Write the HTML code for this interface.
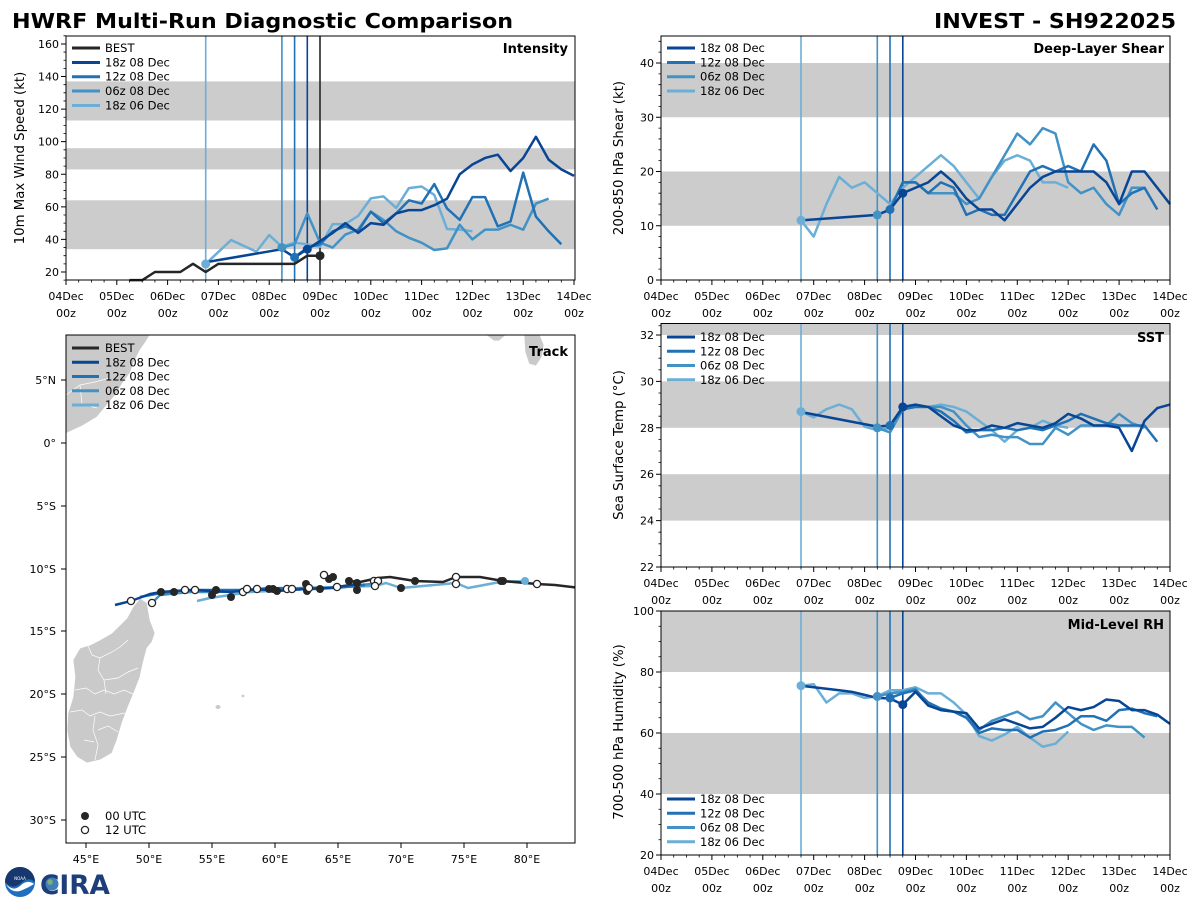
<!DOCTYPE html>
<html><head><meta charset="utf-8"><style>
html,body{margin:0;padding:0;background:#fff;}
svg{display:block;font-family:"DejaVu Sans","Liberation Sans",sans-serif;}
.nss{vector-effect:non-scaling-stroke;fill:none;}
.tk{font-size:11px;fill:#000;}
.lg{font-size:11.5px;fill:#000;}
.al{font-size:13.3px;fill:#000;}
.pt{font-size:13px;font-weight:bold;fill:#000;}
</style></head><body>
<svg width="1200" height="900" viewBox="0 0 1200 900" xmlns="http://www.w3.org/2000/svg">
<rect width="1200" height="900" fill="#fff"/>
<text x="12" y="28" font-size="20" font-weight="bold" textLength="501" lengthAdjust="spacingAndGlyphs">HWRF Multi-Run Diagnostic Comparison</text>
<text x="934" y="28" font-size="20" font-weight="bold" textLength="242" lengthAdjust="spacingAndGlyphs">INVEST - SH922025</text>

<!-- ================= INTENSITY ================= -->
<g>
<rect x="66" y="81.4" width="509" height="39.1" fill="#cccccc"/>
<rect x="66" y="148.2" width="509" height="21.2" fill="#cccccc"/>
<rect x="66" y="200.3" width="509" height="48.9" fill="#cccccc"/>
<g stroke-width="1.6">
<line x1="205.7" y1="36" x2="205.7" y2="280" stroke="#6baed6"/>
<line x1="281.9" y1="36" x2="281.9" y2="280" stroke="#4292c6"/>
<line x1="294.6" y1="36" x2="294.6" y2="280" stroke="#2171b5"/>
<line x1="307.3" y1="36" x2="307.3" y2="280" stroke="#084594"/>
<line x1="320" y1="36" x2="320" y2="280" stroke="#262626"/>
</g>
<g transform="matrix(2.1167 0 0 -1.629 66 304.58)" stroke-width="2.5" stroke-linejoin="round">
<polyline class="nss" stroke="#6baed6" points="66,25 78,39.6 90,32.5 96,42.7 102,35.5 108,38 114,37 120,35.5 126,49.4 132,49.4 138,54.4 144,65.2 150,66.4 156,59.3 162,71.5 168,72.5 174,67.3 180,46.4 186,46 192,45"/>
<polyline class="nss" stroke="#4292c6" points="102,35 108,37 114,56 120,38 126,35 132,43 138,46 144,57 150,52 156,45 162,41 168,38 174,33.5 180,34.5 186,49 192,40 198,46 204,46 210,49 216,46 222,62 228,65"/>
<polyline class="nss" stroke="#2171b5" points="108,29 114,35 120,37 126,45 132,48 138,45 144,57 150,50 156,56 162,64 168,62 174,74 180,59 186,52 192,66 198,66 204,48 210,51 216,81 222,54 228,45 234,37"/>
<polyline class="nss" stroke="#084594" points="66,26 102,34 108,29 114,34 120,39 126,44 132,50 138,44 144,50 150,49 156,56 162,58 168,58 174,61 180,65 186,80 192,86 198,90 204,92 210,82 216,90 222,103 228,89 234,83 240,79"/>
<polyline class="nss" stroke="#262626" points="30,15 36,15 42,20 48,20 54,20 60,25 66,20 72,25 78,25 84,25 90,25 96,25 102,25 108,25 114,30 120,30"/>
</g>
<circle cx="205.7" cy="263.9" r="4.5" fill="#6baed6"/>
<circle cx="281.9" cy="247.6" r="4.5" fill="#4292c6"/>
<circle cx="294.6" cy="257.3" r="4.5" fill="#2171b5"/>
<circle cx="307.3" cy="249.2" r="4.5" fill="#084594"/>
<circle cx="320" cy="255.7" r="4.5" fill="#262626"/>
<rect x="66" y="36" width="509" height="244" fill="none" stroke="#000" stroke-width="1"/>
<g transform="translate(66,280) scale(2.1167,1)" stroke="#000">
<path class="nss" stroke-width="1" d="M0 0v5M24 0v5M48 0v5M72 0v5M96 0v5M120 0v5M144 0v5M168 0v5M192 0v5M216 0v5M240 0v5"/>
<path class="nss" stroke-width="0.8" d="M6 0v2.5M12 0v2.5M18 0v2.5M30 0v2.5M36 0v2.5M42 0v2.5M54 0v2.5M60 0v2.5M66 0v2.5M78 0v2.5M84 0v2.5M90 0v2.5M102 0v2.5M108 0v2.5M114 0v2.5M126 0v2.5M132 0v2.5M138 0v2.5M150 0v2.5M156 0v2.5M162 0v2.5M174 0v2.5M180 0v2.5M186 0v2.5M198 0v2.5M204 0v2.5M210 0v2.5M222 0v2.5M228 0v2.5M234 0v2.5"/>
</g>
<g transform="matrix(1 0 0 -1.629 66 304.58)" stroke="#000">
<path class="nss" stroke-width="1" d="M0 20h-5M0 40h-5M0 60h-5M0 80h-5M0 100h-5M0 120h-5M0 140h-5M0 160h-5"/>
<path class="nss" stroke-width="0.8" d="M0 15h-2.5M0 25h-2.5M0 30h-2.5M0 35h-2.5M0 45h-2.5M0 50h-2.5M0 55h-2.5M0 65h-2.5M0 70h-2.5M0 75h-2.5M0 85h-2.5M0 90h-2.5M0 95h-2.5M0 105h-2.5M0 110h-2.5M0 115h-2.5M0 125h-2.5M0 130h-2.5M0 135h-2.5M0 145h-2.5M0 150h-2.5M0 155h-2.5M0 165h-2.5"/>
</g>
<g class="tk" text-anchor="end">
<text x="59" y="276">20</text><text x="59" y="243.4">40</text><text x="59" y="210.8">60</text><text x="59" y="178.3">80</text><text x="59" y="145.7">100</text><text x="59" y="113.1">120</text><text x="59" y="80.5">140</text><text x="59" y="47.9">160</text>
</g>
<g class="tk" text-anchor="middle">
<text x="66" y="300">04Dec</text><text x="116.8" y="300">05Dec</text><text x="167.6" y="300">06Dec</text><text x="218.4" y="300">07Dec</text><text x="269.2" y="300">08Dec</text><text x="320" y="300">09Dec</text><text x="370.8" y="300">10Dec</text><text x="421.6" y="300">11Dec</text><text x="472.4" y="300">12Dec</text><text x="523.2" y="300">13Dec</text><text x="574" y="300">14Dec</text>
<text x="66" y="317">00z</text><text x="116.8" y="317">00z</text><text x="167.6" y="317">00z</text><text x="218.4" y="317">00z</text><text x="269.2" y="317">00z</text><text x="320" y="317">00z</text><text x="370.8" y="317">00z</text><text x="421.6" y="317">00z</text><text x="472.4" y="317">00z</text><text x="523.2" y="317">00z</text><text x="574" y="317">00z</text>
</g>
<text class="al" transform="translate(24,158) rotate(-90)" text-anchor="middle">10m Max Wind Speed (kt)</text>
<text class="pt" x="568" y="53" text-anchor="end">Intensity</text>
<g stroke-width="3">
<line x1="72" y1="48" x2="100" y2="48" stroke="#262626"/>
<line x1="72" y1="62.5" x2="100" y2="62.5" stroke="#084594"/>
<line x1="72" y1="76.7" x2="100" y2="76.7" stroke="#2171b5"/>
<line x1="72" y1="91" x2="100" y2="91" stroke="#4292c6"/>
<line x1="72" y1="105.5" x2="100" y2="105.5" stroke="#6baed6"/>
</g>
<g class="lg"><text x="105" y="52">BEST</text><text x="105" y="66.5">18z 08 Dec</text><text x="105" y="80.7">12z 08 Dec</text><text x="105" y="95">06z 08 Dec</text><text x="105" y="109.5">18z 06 Dec</text></g>
</g>

<!-- ================= SHEAR ================= -->
<g>
<rect x="661" y="63" width="509" height="54.25" fill="#cccccc"/>
<rect x="661" y="171.5" width="509" height="54.25" fill="#cccccc"/>
<g stroke-width="1.6">
<line x1="801" y1="36" x2="801" y2="280" stroke="#6baed6"/>
<line x1="877.3" y1="36" x2="877.3" y2="280" stroke="#4292c6"/>
<line x1="890" y1="36" x2="890" y2="280" stroke="#2171b5"/>
<line x1="902.8" y1="36" x2="902.8" y2="280" stroke="#084594"/>
</g>
<g transform="matrix(2.1208 0 0 -5.425 661 280)" stroke-width="2.5" stroke-linejoin="round">
<polyline class="nss" stroke="#6baed6" points="66,11 72,8 78,14 84,19 90,17 96,18 102,16 108,14 114,17 120,19 126,21 132,23 138,21 144,18 150,15 156,19 162,22 168,23 174,22 180,18 186,18 192,17"/>
<polyline class="nss" stroke="#4292c6" points="102,12 108,13 114,18 120,18 126,16 132,16 138,16 144,14 150,15 156,19 162,23 168,27 174,25 180,28 186,27 192,18 198,16 204,17 210,14 216,12 222,17 228,17"/>
<polyline class="nss" stroke="#2171b5" points="108,13 114,18 120,18 126,16 132,18 138,17 144,12 150,13 156,12 162,12 168,16 174,20 180,21 186,20 192,21 198,20 204,25 210,22 216,14 222,16 228,17 234,13"/>
<polyline class="nss" stroke="#084594" points="66,11 102,12 108,13 114,16 120,17 126,18 132,20 138,18 144,15 150,13 156,13 162,11 168,14 174,17 180,19 186,20 192,20 198,20 204,20 210,18 216,14 222,20 228,20 234,17 240,14"/>
</g>
<circle cx="801" cy="220.3" r="4.5" fill="#6baed6"/>
<circle cx="877.3" cy="214.9" r="4.5" fill="#4292c6"/>
<circle cx="890" cy="209.5" r="4.5" fill="#2171b5"/>
<circle cx="902.8" cy="193.2" r="4.5" fill="#084594"/>
<rect x="661" y="36" width="509" height="244" fill="none" stroke="#000" stroke-width="1"/>
<g transform="translate(661,280) scale(2.1208,1)" stroke="#000">
<path class="nss" stroke-width="1" d="M0 0v5M24 0v5M48 0v5M72 0v5M96 0v5M120 0v5M144 0v5M168 0v5M192 0v5M216 0v5M240 0v5"/>
<path class="nss" stroke-width="0.8" d="M6 0v2.5M12 0v2.5M18 0v2.5M30 0v2.5M36 0v2.5M42 0v2.5M54 0v2.5M60 0v2.5M66 0v2.5M78 0v2.5M84 0v2.5M90 0v2.5M102 0v2.5M108 0v2.5M114 0v2.5M126 0v2.5M132 0v2.5M138 0v2.5M150 0v2.5M156 0v2.5M162 0v2.5M174 0v2.5M180 0v2.5M186 0v2.5M198 0v2.5M204 0v2.5M210 0v2.5M222 0v2.5M228 0v2.5M234 0v2.5"/>
</g>
<g transform="matrix(1 0 0 -5.425 661 280)" stroke="#000">
<path class="nss" stroke-width="1" d="M0 0h-5M0 10h-5M0 20h-5M0 30h-5M0 40h-5"/>
<path class="nss" stroke-width="0.8" d="M0 2h-2.5M0 4h-2.5M0 6h-2.5M0 8h-2.5M0 12h-2.5M0 14h-2.5M0 16h-2.5M0 18h-2.5M0 22h-2.5M0 24h-2.5M0 26h-2.5M0 28h-2.5M0 32h-2.5M0 34h-2.5M0 36h-2.5M0 38h-2.5M0 42h-2.5M0 44h-2.5"/>
</g>
<g class="tk" text-anchor="end">
<text x="654" y="284">0</text><text x="654" y="229.8">10</text><text x="654" y="175.5">20</text><text x="654" y="121.3">30</text><text x="654" y="67">40</text>
</g>
<g class="tk" text-anchor="middle">
<text x="661" y="300">04Dec</text><text x="711.9" y="300">05Dec</text><text x="762.8" y="300">06Dec</text><text x="813.7" y="300">07Dec</text><text x="864.6" y="300">08Dec</text><text x="915.5" y="300">09Dec</text><text x="966.4" y="300">10Dec</text><text x="1017.3" y="300">11Dec</text><text x="1068.2" y="300">12Dec</text><text x="1119.1" y="300">13Dec</text><text x="1170" y="300">14Dec</text>
<text x="661" y="317">00z</text><text x="711.9" y="317">00z</text><text x="762.8" y="317">00z</text><text x="813.7" y="317">00z</text><text x="864.6" y="317">00z</text><text x="915.5" y="317">00z</text><text x="966.4" y="317">00z</text><text x="1017.3" y="317">00z</text><text x="1068.2" y="317">00z</text><text x="1119.1" y="317">00z</text><text x="1170" y="317">00z</text>
</g>
<text class="al" transform="translate(623,158) rotate(-90)" text-anchor="middle">200-850 hPa Shear (kt)</text>
<text class="pt" x="1164" y="53" text-anchor="end">Deep-Layer Shear</text>
<g stroke-width="3">
<line x1="667" y1="48" x2="695" y2="48" stroke="#084594"/>
<line x1="667" y1="62.5" x2="695" y2="62.5" stroke="#2171b5"/>
<line x1="667" y1="76.7" x2="695" y2="76.7" stroke="#4292c6"/>
<line x1="667" y1="91" x2="695" y2="91" stroke="#6baed6"/>
</g>
<g class="lg"><text x="700" y="52">18z 08 Dec</text><text x="700" y="66.5">12z 08 Dec</text><text x="700" y="80.7">06z 08 Dec</text><text x="700" y="95">18z 06 Dec</text></g>
</g>

<!-- ================= SST ================= -->
<g>
<rect x="661" y="323.5" width="509" height="11.5" fill="#cccccc"/>
<rect x="661" y="381.4" width="509" height="46.4" fill="#cccccc"/>
<rect x="661" y="474.2" width="509" height="46.4" fill="#cccccc"/>
<g stroke-width="1.6">
<line x1="801" y1="323.5" x2="801" y2="567" stroke="#6baed6"/>
<line x1="877.3" y1="323.5" x2="877.3" y2="567" stroke="#4292c6"/>
<line x1="890" y1="323.5" x2="890" y2="567" stroke="#2171b5"/>
<line x1="902.8" y1="323.5" x2="902.8" y2="567" stroke="#084594"/>
</g>
<g transform="matrix(2.1208 0 0 -23.2 661 1077.4)" stroke-width="2.5" stroke-linejoin="round">
<polyline class="nss" stroke="#6baed6" points="66,28.7 72,28.45 78,28.8 84,29.0 90,28.8 96,28.05 102,27.9 108,28.0 114,28.8 120,28.9 126,28.9 132,29.0 138,28.9 144,28.7 150,28.3 156,27.9 162,27.4 168,27.9 174,28.0 180,28.3 186,28.1 192,28.0"/>
<polyline class="nss" stroke="#4292c6" points="102,28.0 108,27.8 114,28.8 120,28.9 126,28.9 132,28.9 138,28.7 144,28.1 150,27.6 156,27.7 162,27.6 168,27.6 174,27.3 180,27.3 186,28.0 192,27.7 198,28.1 204,28.1 210,28.1 216,28.6 222,28.2 228,28.0"/>
<polyline class="nss" stroke="#2171b5" points="108,28.1 114,28.8 120,28.9 126,28.9 132,28.7 138,28.3 144,27.8 150,27.9 156,27.9 162,28.0 168,27.9 174,28.0 180,27.9 186,28.1 192,28.3 198,28.6 204,28.4 210,28.2 216,28.1 222,28.1 228,28.1 234,27.4"/>
<polyline class="nss" stroke="#084594" points="66,28.68 102,28.05 108,28.1 114,28.9 120,29.0 126,28.9 132,28.5 138,28.1 144,27.9 150,27.9 156,28.1 162,28.0 168,28.2 174,28.1 180,28.0 186,28.2 192,28.6 198,28.4 204,28.1 210,28.1 216,28.0 222,27.0 228,28.3 234,28.85 240,29.0"/>
</g>
<circle cx="801" cy="411.6" r="4.5" fill="#6baed6"/>
<circle cx="877.3" cy="427.8" r="4.5" fill="#4292c6"/>
<circle cx="890" cy="425.5" r="4.5" fill="#2171b5"/>
<circle cx="902.8" cy="406.9" r="4.5" fill="#084594"/>
<rect x="661" y="323.5" width="509" height="243.5" fill="none" stroke="#000" stroke-width="1"/>
<g transform="translate(661,567) scale(2.1208,1)" stroke="#000">
<path class="nss" stroke-width="1" d="M0 0v5M24 0v5M48 0v5M72 0v5M96 0v5M120 0v5M144 0v5M168 0v5M192 0v5M216 0v5M240 0v5"/>
<path class="nss" stroke-width="0.8" d="M6 0v2.5M12 0v2.5M18 0v2.5M30 0v2.5M36 0v2.5M42 0v2.5M54 0v2.5M60 0v2.5M66 0v2.5M78 0v2.5M84 0v2.5M90 0v2.5M102 0v2.5M108 0v2.5M114 0v2.5M126 0v2.5M132 0v2.5M138 0v2.5M150 0v2.5M156 0v2.5M162 0v2.5M174 0v2.5M180 0v2.5M186 0v2.5M198 0v2.5M204 0v2.5M210 0v2.5M222 0v2.5M228 0v2.5M234 0v2.5"/>
</g>
<g transform="matrix(1 0 0 -23.2 661 1077.4)" stroke="#000">
<path class="nss" stroke-width="1" d="M0 22h-5M0 24h-5M0 26h-5M0 28h-5M0 30h-5M0 32h-5"/>
<path class="nss" stroke-width="0.8" d="M0 22.5h-2.5M0 23h-2.5M0 23.5h-2.5M0 24.5h-2.5M0 25h-2.5M0 25.5h-2.5M0 26.5h-2.5M0 27h-2.5M0 27.5h-2.5M0 28.5h-2.5M0 29h-2.5M0 29.5h-2.5M0 30.5h-2.5M0 31h-2.5M0 31.5h-2.5M0 32.4h-2.5"/>
</g>
<g class="tk" text-anchor="end">
<text x="654" y="571">22</text><text x="654" y="524.6">24</text><text x="654" y="478.2">26</text><text x="654" y="431.8">28</text><text x="654" y="385.4">30</text><text x="654" y="339">32</text>
</g>
<g class="tk" text-anchor="middle">
<text x="661" y="587">04Dec</text><text x="711.9" y="587">05Dec</text><text x="762.8" y="587">06Dec</text><text x="813.7" y="587">07Dec</text><text x="864.6" y="587">08Dec</text><text x="915.5" y="587">09Dec</text><text x="966.4" y="587">10Dec</text><text x="1017.3" y="587">11Dec</text><text x="1068.2" y="587">12Dec</text><text x="1119.1" y="587">13Dec</text><text x="1170" y="587">14Dec</text>
<text x="661" y="604">00z</text><text x="711.9" y="604">00z</text><text x="762.8" y="604">00z</text><text x="813.7" y="604">00z</text><text x="864.6" y="604">00z</text><text x="915.5" y="604">00z</text><text x="966.4" y="604">00z</text><text x="1017.3" y="604">00z</text><text x="1068.2" y="604">00z</text><text x="1119.1" y="604">00z</text><text x="1170" y="604">00z</text>
</g>
<text class="al" transform="translate(623,445) rotate(-90)" text-anchor="middle">Sea Surface Temp (°C)</text>
<text class="pt" x="1164" y="342" text-anchor="end">SST</text>
<g stroke-width="3">
<line x1="667" y1="337" x2="695" y2="337" stroke="#084594"/>
<line x1="667" y1="351.3" x2="695" y2="351.3" stroke="#2171b5"/>
<line x1="667" y1="365.5" x2="695" y2="365.5" stroke="#4292c6"/>
<line x1="667" y1="379.8" x2="695" y2="379.8" stroke="#6baed6"/>
</g>
<g class="lg"><text x="700" y="341">18z 08 Dec</text><text x="700" y="355.3">12z 08 Dec</text><text x="700" y="369.5">06z 08 Dec</text><text x="700" y="383.8">18z 06 Dec</text></g>
</g>

<!-- ================= RH ================= -->
<g>
<rect x="661" y="611" width="509" height="61" fill="#cccccc"/>
<rect x="661" y="733" width="509" height="61" fill="#cccccc"/>
<g stroke-width="1.6">
<line x1="801" y1="611" x2="801" y2="855" stroke="#6baed6"/>
<line x1="877.3" y1="611" x2="877.3" y2="855" stroke="#4292c6"/>
<line x1="890" y1="611" x2="890" y2="855" stroke="#2171b5"/>
<line x1="902.8" y1="611" x2="902.8" y2="855" stroke="#084594"/>
</g>
<g transform="matrix(2.1208 0 0 -3.05 661 916)" stroke-width="2.5" stroke-linejoin="round">
<polyline class="nss" stroke="#6baed6" points="66,75.5 72,76 78,70 84,73 90,73 96,71.5 102,72 108,74 114,74 120,75 126,73 132,73 138,70 144,66 150,59 156,57.5 162,59.5 168,62 174,58.5 180,55.5 186,56.5 192,60.5"/>
<polyline class="nss" stroke="#4292c6" points="102,72 108,73 114,73.5 120,74.5 126,69.5 132,67.5 138,67 144,65 150,61 156,64 162,65.5 168,67 174,64.5 180,65.5 186,70 192,66.5 198,63 204,61 210,62.5 216,62 222,62 228,58.5"/>
<polyline class="nss" stroke="#2171b5" points="108,71.5 114,73 120,74 126,70 132,68 138,67 144,65 150,60 156,61.5 162,61 168,61 174,58.5 180,60.5 186,61 192,62.5 198,65.5 204,65.5 210,64 216,67.5 222,68 228,66.5 234,65.5"/>
<polyline class="nss" stroke="#084594" points="66,75.5 72,75 78,74.5 84,74 90,73.5 96,72.5 102,71.5 108,71.3 114,69.3 120,73.5 126,69 132,67.5 138,67 144,66.5 150,61.5 156,63 162,64.5 168,63 174,61.5 180,62 186,65 192,68.5 198,67.5 204,68.5 210,71 216,70.5 222,67.5 228,67.5 234,66 240,63"/>
</g>
<circle cx="801" cy="685.7" r="4.5" fill="#6baed6"/>
<circle cx="877.3" cy="696.4" r="4.5" fill="#4292c6"/>
<circle cx="890" cy="697.9" r="4.5" fill="#2171b5"/>
<circle cx="902.8" cy="704.6" r="4.5" fill="#084594"/>
<rect x="661" y="611" width="509" height="244" fill="none" stroke="#000" stroke-width="1"/>
<g transform="translate(661,855) scale(2.1208,1)" stroke="#000">
<path class="nss" stroke-width="1" d="M0 0v5M24 0v5M48 0v5M72 0v5M96 0v5M120 0v5M144 0v5M168 0v5M192 0v5M216 0v5M240 0v5"/>
<path class="nss" stroke-width="0.8" d="M6 0v2.5M12 0v2.5M18 0v2.5M30 0v2.5M36 0v2.5M42 0v2.5M54 0v2.5M60 0v2.5M66 0v2.5M78 0v2.5M84 0v2.5M90 0v2.5M102 0v2.5M108 0v2.5M114 0v2.5M126 0v2.5M132 0v2.5M138 0v2.5M150 0v2.5M156 0v2.5M162 0v2.5M174 0v2.5M180 0v2.5M186 0v2.5M198 0v2.5M204 0v2.5M210 0v2.5M222 0v2.5M228 0v2.5M234 0v2.5"/>
</g>
<g transform="matrix(1 0 0 -3.05 661 916)" stroke="#000">
<path class="nss" stroke-width="1" d="M0 20h-5M0 40h-5M0 60h-5M0 80h-5M0 100h-5"/>
<path class="nss" stroke-width="0.8" d="M0 25h-2.5M0 30h-2.5M0 35h-2.5M0 45h-2.5M0 50h-2.5M0 55h-2.5M0 65h-2.5M0 70h-2.5M0 75h-2.5M0 85h-2.5M0 90h-2.5M0 95h-2.5"/>
</g>
<g class="tk" text-anchor="end">
<text x="654" y="859">20</text><text x="654" y="798">40</text><text x="654" y="737">60</text><text x="654" y="676">80</text><text x="654" y="615">100</text>
</g>
<g class="tk" text-anchor="middle">
<text x="661" y="875">04Dec</text><text x="711.9" y="875">05Dec</text><text x="762.8" y="875">06Dec</text><text x="813.7" y="875">07Dec</text><text x="864.6" y="875">08Dec</text><text x="915.5" y="875">09Dec</text><text x="966.4" y="875">10Dec</text><text x="1017.3" y="875">11Dec</text><text x="1068.2" y="875">12Dec</text><text x="1119.1" y="875">13Dec</text><text x="1170" y="875">14Dec</text>
<text x="661" y="892">00z</text><text x="711.9" y="892">00z</text><text x="762.8" y="892">00z</text><text x="813.7" y="892">00z</text><text x="864.6" y="892">00z</text><text x="915.5" y="892">00z</text><text x="966.4" y="892">00z</text><text x="1017.3" y="892">00z</text><text x="1068.2" y="892">00z</text><text x="1119.1" y="892">00z</text><text x="1170" y="892">00z</text>
</g>
<text class="al" transform="translate(623,732) rotate(-90)" text-anchor="middle">700-500 hPa Humidity (%)</text>
<text class="pt" x="1164" y="629" text-anchor="end">Mid-Level RH</text>
<g stroke-width="3">
<line x1="667" y1="799" x2="695" y2="799" stroke="#084594"/>
<line x1="667" y1="813.3" x2="695" y2="813.3" stroke="#2171b5"/>
<line x1="667" y1="827.5" x2="695" y2="827.5" stroke="#4292c6"/>
<line x1="667" y1="841.8" x2="695" y2="841.8" stroke="#6baed6"/>
</g>
<g class="lg"><text x="700" y="803">18z 08 Dec</text><text x="700" y="817.3">12z 08 Dec</text><text x="700" y="831.5">06z 08 Dec</text><text x="700" y="845.8">18z 06 Dec</text></g>
</g>

<!-- ================= TRACK ================= -->
<g>
<defs><clipPath id="tc"><rect x="66" y="335" width="509" height="508"/></clipPath></defs>
<g clip-path="url(#tc)" fill="#cacaca" stroke="#fff" stroke-width="0.7">
<polygon points="60,335 150,335 145,343 140,350 134,362 130,373 122,384 117,393 107,405 97,417 82,426 67,433 60,436"/>
<polyline fill="none" points="66,395 80,385 95,382 110,378"/>
<polyline fill="none" points="80,385 82,404 97,408"/>
<polygon points="486,335 506,335 499,341 494,341"/>
<polygon points="524,335 540,335 544,345 542,357 536,366 529,364 525,352"/>
<polygon points="140,598 147,603 150,620 155,633 152,642 147,648 143,663 140,677 135,690 128,707 122,723 117,740 112,753 100,760 87,763 77,757 70,747 67,730 68,713 73,697 75,677 73,660 80,648 90,645 100,640 112,633 117,628 127,618 133,607"/>
<polyline fill="none" points="88,646 92,655 100,658 112,652 120,647 128,640"/>
<polyline fill="none" points="100,658 98,670 104,680 118,678 128,672 138,668"/>
<polyline fill="none" points="75,690 86,688 95,694 104,690 114,694 124,690 133,694"/>
<polyline fill="none" points="104,680 106,694"/>
<polyline fill="none" points="70,712 82,710 90,716 100,712 110,716 125,713"/>
<polyline fill="none" points="95,716 93,730 98,745 95,760"/>
<polyline fill="none" points="98,730 108,726 118,732"/>
<polyline fill="none" points="84,740 94,742"/>
<ellipse cx="218" cy="707" rx="2.5" ry="2" stroke="none"/>
<ellipse cx="243" cy="696" rx="1.5" ry="1.2" stroke="none"/>
</g>
<g fill="none" stroke-width="2.5" stroke-linejoin="round" clip-path="url(#tc)">
<polyline stroke="#6baed6" points="525,581 500,582 468,588 456,583 401,588 386,583 375,586 340,587 300,588 270,591 250,592 230,595 210,598 197,601"/>
<polyline stroke="#4292c6" points="372,584 345,586 320,589 300,589 280,588 260,590 240,591 215,592 190,592 170,594 160,595 152,603"/>
<polyline stroke="#2171b5" points="365,585 336,588 309,588 292,589 270,588 247,590 216,590 185,590 161,593 140,597"/>
<polyline stroke="#084594" points="357,584 330,588 306,589 277,591 257,589 231,592 212,591 195,590 174,591 161,592 150,594 131,601 115,605"/>
<polyline stroke="#262626" points="580,588 555,585 537,584 503,581 480,577 456,577 443,582 415,581 390,577 378,578 360,582 349,581"/>
</g>
<g fill="#262626">
<circle cx="161" cy="592" r="4"/><circle cx="174" cy="592" r="4"/><circle cx="212" cy="595" r="4"/><circle cx="216" cy="590" r="4"/><circle cx="231" cy="597" r="4"/><circle cx="269" cy="589" r="4"/><circle cx="273" cy="589" r="4"/><circle cx="277" cy="591" r="4"/><circle cx="306" cy="584" r="4"/><circle cx="307" cy="591" r="4"/><circle cx="320" cy="589" r="4"/><circle cx="329" cy="579" r="4"/><circle cx="333" cy="577" r="4"/><circle cx="349" cy="581" r="4"/><circle cx="357" cy="583" r="4"/><circle cx="357" cy="590" r="4"/><circle cx="401" cy="588" r="4"/><circle cx="415" cy="581" r="4"/><circle cx="501" cy="581" r="4"/><circle cx="503" cy="581" r="4"/>
</g>
<circle cx="525" cy="581" r="4" fill="#6baed6"/>
<g fill="#fff" stroke="#262626" stroke-width="1.3">
<circle cx="131" cy="601" r="3.6"/><circle cx="152" cy="603" r="3.6"/><circle cx="185" cy="590" r="3.6"/><circle cx="195" cy="590" r="3.6"/><circle cx="243" cy="592" r="3.6"/><circle cx="247" cy="589" r="3.6"/><circle cx="257" cy="589" r="3.6"/><circle cx="287" cy="589" r="3.6"/><circle cx="292" cy="589" r="3.6"/><circle cx="309" cy="588" r="3.6"/><circle cx="324" cy="575" r="3.6"/><circle cx="337" cy="587" r="3.6"/><circle cx="374" cy="581" r="3.6"/><circle cx="378" cy="581" r="3.6"/><circle cx="375" cy="586" r="3.6"/><circle cx="456" cy="577" r="3.6"/><circle cx="456" cy="584" r="3.6"/><circle cx="537" cy="584" r="3.6"/>
</g>
<rect x="66" y="335" width="509" height="508" fill="none" stroke="#000" stroke-width="1"/>
<g stroke="#000" stroke-width="1">
<path d="M66 380h-5M66 443h-5M66 506h-5M66 569h-5M66 631h-5M66 694h-5M66 757h-5M66 820h-5"/>
<path d="M86 843v5M149 843v5M212 843v5M275 843v5M338 843v5M401 843v5M464 843v5M527 843v5"/>
</g>
<g class="tk" text-anchor="end">
<text x="56" y="384">5°N</text><text x="56" y="447">0°</text><text x="56" y="510">5°S</text><text x="56" y="573">10°S</text><text x="56" y="635">15°S</text><text x="56" y="698">20°S</text><text x="56" y="761">25°S</text><text x="56" y="824">30°S</text>
</g>
<g class="tk" text-anchor="middle">
<text x="86" y="863">45°E</text><text x="149" y="863">50°E</text><text x="212" y="863">55°E</text><text x="275" y="863">60°E</text><text x="338" y="863">65°E</text><text x="401" y="863">70°E</text><text x="464" y="863">75°E</text><text x="527" y="863">80°E</text>
</g>
<text class="pt" x="568" y="356" text-anchor="end">Track</text>
<g stroke-width="3">
<line x1="72" y1="348" x2="99" y2="348" stroke="#262626"/>
<line x1="72" y1="362.3" x2="99" y2="362.3" stroke="#084594"/>
<line x1="72" y1="376.5" x2="99" y2="376.5" stroke="#2171b5"/>
<line x1="72" y1="390.8" x2="99" y2="390.8" stroke="#4292c6"/>
<line x1="72" y1="405" x2="99" y2="405" stroke="#6baed6"/>
</g>
<g class="lg"><text x="105" y="352">BEST</text><text x="105" y="366.3">18z 08 Dec</text><text x="105" y="380.5">12z 08 Dec</text><text x="105" y="394.8">06z 08 Dec</text><text x="105" y="409">18z 06 Dec</text></g>
<circle cx="85" cy="816" r="4" fill="#262626"/>
<circle cx="85" cy="830" r="3.6" fill="#fff" stroke="#262626" stroke-width="1.3"/>
<g class="lg"><text x="105" y="820">00 UTC</text><text x="105" y="834">12 UTC</text></g>
</g>

<!-- ================= LOGOS ================= -->
<g>
<circle cx="20" cy="882" r="15" fill="#1f6fc0"/>
<path d="M5 882 A15 15 0 0 1 35 882 Q28 876 20 884 Q12 890 5 882Z" fill="#17386e"/>
<path d="M6 884 Q13 892 20 886 Q27 879 34 884 Q28 888 20 891 Q11 893 6 884Z" fill="#fff"/>
<text x="20" y="880" font-size="4" fill="#fff" text-anchor="middle">NOAA</text>
<text x="40" y="894" font-size="27" font-weight="bold" fill="#1c3f7a" textLength="70" lengthAdjust="spacingAndGlyphs">CIRA</text>
<circle cx="52" cy="884" r="6.5" fill="#3f7fb8"/>
<circle cx="50" cy="882" r="2.8" fill="#8fb86a" opacity="0.8"/>
</g>
</svg>
</body></html>
